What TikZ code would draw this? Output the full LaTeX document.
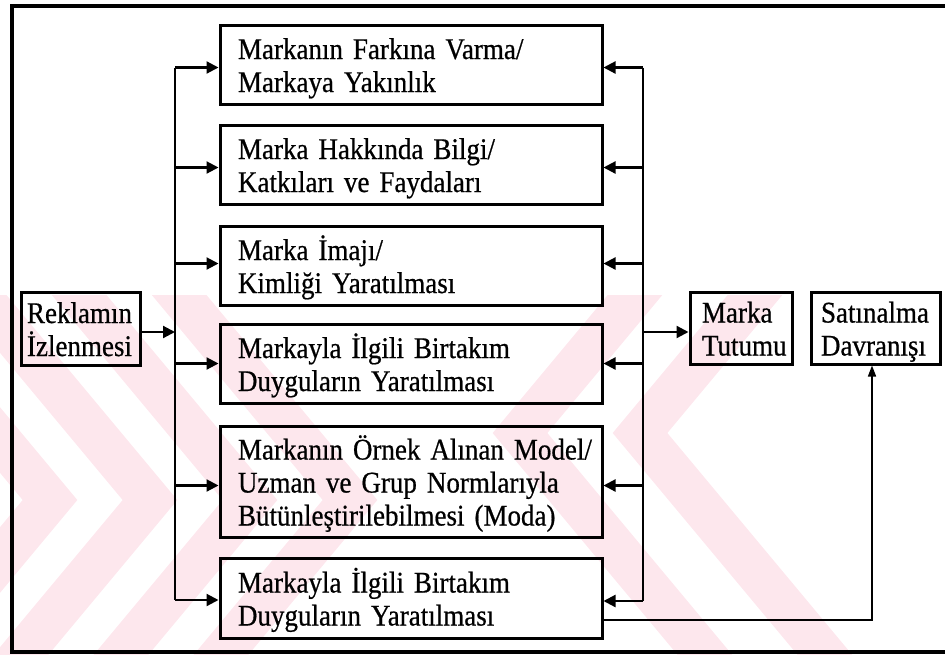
\documentclass[tikz,border=0pt]{standalone}
\usepackage{fontspec}
\setmainfont{Liberation Serif}[FakeStretch=0.9, FakeBold=0.6]
\usetikzlibrary{arrows.meta}
\definecolor{wmpink}{RGB}{253,231,237}
\begin{document}
\begin{tikzpicture}[x=1pt,y=-1pt,
  box/.style={draw, line width=3pt, align=left, inner xsep=0pt, inner ysep=0pt,
    font=\fontsize{30}{33}\selectfont, text height=24pt},
  two/.style={text depth=35pt},
  three/.style={text depth=68pt},
  wide/.style={minimum width=382pt, text width=346pt},
  conn/.style={line width=2.2pt},
  arr/.style={conn, -{Triangle[length=12pt,width=12pt]}},
  thinarr/.style={line width=1.6pt, -{Triangle[length=11pt,width=8pt]}},
  frame/.style={line width=4.5pt},
  wm/.style={wmpink, line width=42pt, line join=miter}
]
\useasboundingbox (0,0) rectangle (945,654);

% light background chevrons
\begin{scope}
  \clip (0,295) rectangle (945,654);
  \foreach \a in {-50,50,150,250,350}
    \draw[wm] (\a-250,200) -- (\a,500) -- (\a-250,800);
  \foreach \b in {520,640}
    \draw[wm] (\b+250,133) -- (\b,433) -- (\b+250,733);
\end{scope}

% outer frame
\draw[frame] (12,6) rectangle (949,652);

% boxes
\node[box, two, wide, minimum height=79pt] (b1) at (411,64.5)
  {Markanın Farkına Varma/\\Markaya Yakınlık};
\node[box, two, wide, minimum height=79pt] (b2) at (411,164.5)
  {Marka Hakkında Bilgi/\\Katkıları ve Faydaları};
\node[box, two, wide, minimum height=79pt] (b3) at (411,265.5)
  {Marka İmajı/\\Kimliği Yaratılması};
\node[box, two, wide, minimum height=79pt] (b4) at (411,363.5)
  {Markayla İlgili Birtakım\\Duyguların Yaratılması};
\node[box, three, wide, minimum height=111pt] (b5) at (411,481.5)
  {\mbox{Markanın Örnek Alınan Model/}\\Uzman ve Grup Normlarıyla\\\mbox{Bütünleştirilebilmesi (Moda)}};
\node[box, two, wide, minimum height=80pt] (b6) at (411,598)
  {Markayla İlgili Birtakım\\Duyguların Yaratılması};

\node[box, two, minimum width=119pt, minimum height=73pt, text width=107pt] (rek)
  at (80.5,328.5) {\mbox{Reklamın}\\\mbox{İzlenmesi}};
\node[box, two, minimum width=102pt, minimum height=72pt, text width=78pt] (mt)
  at (741,328) {Marka\\\mbox{Tutumu}};
\node[box, two, minimum width=129pt, minimum height=72pt, text width=109pt] (sd)
  at (875.5,328) {\mbox{Satınalma}\\\mbox{Davranışı}};

% bus lines
\coordinate (lb) at (175,0);
\coordinate (rb) at (643,0);
\coordinate (corner) at (872,620);

\draw[conn] ([yshift=-3pt]b1.west -| lb) -- ([yshift=-2pt]b6.west -| lb);
\draw[conn] ([yshift=-3pt]b1.east -| rb) -- ([yshift=-3pt]b6.east -| rb);

% left fan-out
\draw[arr] ([yshift=-3.5pt]rek.east) -- ([yshift=-3.5pt]rek.east -| lb);
\foreach \n/\s in {b1/-3,b2/-3,b3/2,b4/0,b5/-4,b6/-2}
  \draw[arr] ([yshift=\s pt]\n.west -| lb) -- ([yshift=\s pt]\n.west);

% right fan-in
\foreach \n/\s in {b1/-3,b2/-3,b3/2,b4/0,b5/-4,b6/-3}
  \draw[arr] ([yshift=\s pt]\n.east -| rb) -- ([yshift=\s pt]\n.east);
\draw[arr] ([yshift=-4pt]mt.west -| rb) -- ([yshift=-4pt]mt.west);

% link to purchase behaviour
\draw[thinarr] (b6.east |- corner) -- (corner) -- (sd.south -| corner);
\end{tikzpicture}
\end{document}
